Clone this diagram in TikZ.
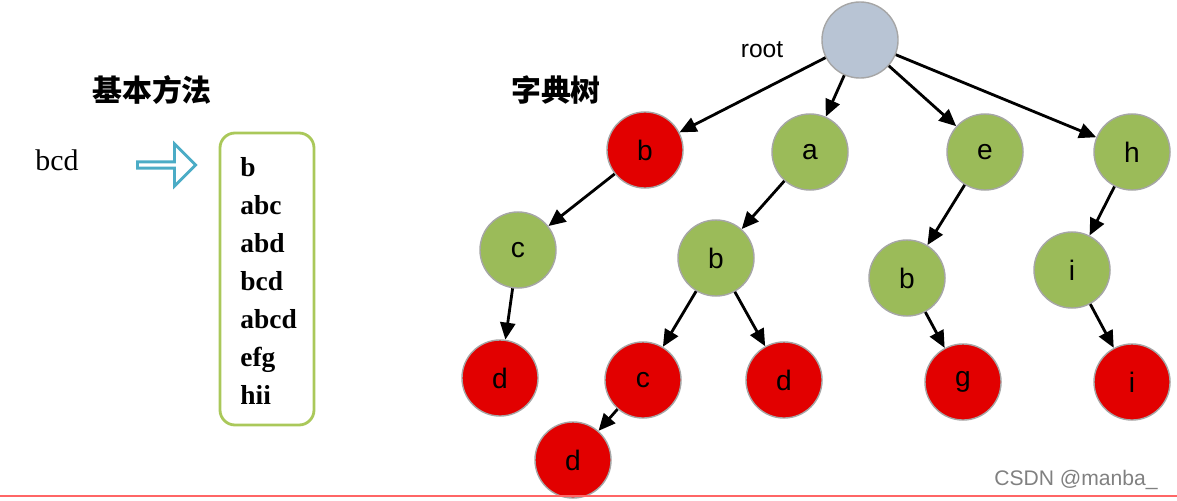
\documentclass[tikz,border=0pt]{standalone}
\usepackage{fontspec}
\setmainfont{Liberation Sans}
\newfontfamily\cjk{Noto Sans CJK SC}
\newfontfamily\serifl{Liberation Serif}
\usetikzlibrary{shapes.arrows,arrows.meta}
\definecolor{leafred}{RGB}{226,0,0}
\definecolor{innergreen}{RGB}{155,187,89}
\definecolor{rootgray}{RGB}{184,196,212}
\definecolor{boxgreen}{RGB}{170,200,90}
\definecolor{hollowteal}{RGB}{75,172,198}
\begin{document}
\begin{tikzpicture}[x=0.01cm,y=-0.01cm,
    trienode/.style={circle,draw=gray!70,minimum size=0.76cm,inner sep=0pt,font=\fontsize{8}{9}\selectfont},
    redn/.style={trienode,fill=leafred},
    greenn/.style={trienode,fill=innergreen},
    edge/.style={-{Triangle[length=1.7mm,width=1.5mm]},line width=0.8pt}
]
    \useasboundingbox (0,0) rectangle (1177,500);
    % left part
    \node[font=\cjk\bfseries\fontsize{8.5}{10}\selectfont] (basic) at (152,90) {基本方法};
    \node[font=\cjk\bfseries\fontsize{8.5}{10}\selectfont] (trie) at (556,90) {字典树};
    \node[font=\serifl\fontsize{8.5}{10}\selectfont] (query) at (57,160) {bcd};
    \node[single arrow,draw=hollowteal,line width=0.8pt,minimum height=0.58cm,minimum width=0.42cm,single arrow head extend=0.08cm,inner sep=0pt] (hollow) at (165,165) {};
    \draw[boxgreen,line width=0.8pt,rounded corners=0.15cm] (220,133) rectangle (314,425);
    \node[anchor=north west,align=left,font=\serifl\bfseries\fontsize{7.8}{10.8}\selectfont] (words) at (228,145)
        {b\\abc\\abd\\bcd\\abcd\\efg\\hii};
    % tree
    \node[trienode,fill=rootgray] (root) at (860,40) {};
    \node[font=\fontsize{7}{8}\selectfont] (rootlbl) at (762,50) {root};
    \node[redn] (b1) at (645,150) {b};
    \node[greenn] (a1) at (810,152) {a};
    \node[greenn] (e1) at (985,152) {e};
    \node[greenn] (h1) at (1132,152) {h};
    \node[greenn] (c2) at (518,250) {c};
    \node[greenn] (b2) at (716,258) {b};
    \node[greenn] (b3) at (907,278) {b};
    \node[greenn] (i2) at (1072,270) {i};
    \node[redn] (d3) at (500,378) {d};
    \node[redn] (c3) at (643,380) {c};
    \node[redn] (d4) at (784,380) {d};
    \node[redn] (g3) at (963,382) {g};
    \node[redn] (i3) at (1132,382) {i};
    \node[redn] (d5) at (573,460) {d};

    \draw[edge] (root) -- (b1);
    \draw[edge] (root) -- (a1);
    \draw[edge] (root) -- (e1);
    \draw[edge] (root) -- (h1);
    \draw[edge] (b1) -- (c2);
    \draw[edge] (c2) -- (d3);
    \draw[edge] (a1) -- (b2);
    \draw[edge] (b2) -- (c3);
    \draw[edge] (b2) -- (d4);
    \draw[edge] (c3) -- (d5);
    \draw[edge] (e1) -- (b3);
    \draw[edge] (b3) -- (g3);
    \draw[edge] (h1) -- (i2);
    \draw[edge] (i2) -- (i3);

    \draw[red!60,line width=0.6pt] (0,496) -- (1177,496);
    \node[text=gray,font=\fontsize{6}{7}\selectfont,anchor=east] (mark) at (1170,480) {CSDN @manba\_};
\end{tikzpicture}
\end{document}
